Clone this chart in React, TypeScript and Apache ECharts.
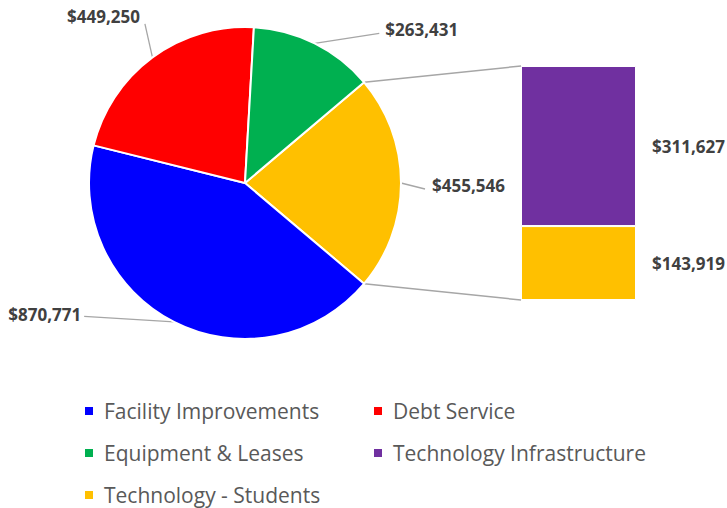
import React, { useEffect, useRef } from "react";
import * as echarts from "echarts";

// ---- data ----
const pieCategories = ["Facility Improvements", "Debt Service", "Equipment & Leases"];
const pieValues = [870771, 449250, 263431];
const otherName = "Technology";
const barCategories = ["Technology - Students", "Technology Infrastructure"];
const barValues = [143919, 311627];
const legendRows = [
  ["Facility Improvements", "Debt Service"],
  ["Equipment & Leases", "Technology Infrastructure"],
  ["Technology - Students"],
];

// ---- styles ----
const pieColors = ["#0000FF", "#FF0000", "#00B050"];
const otherColor = "#FFC000";
const barColors = ["#FFC000", "#7030A0"];
const labelColor = "#404040";
const lineColor = "#A6A6A6";
const FONT = "'Open Sans', 'Noto Sans', sans-serif";

// pie layout
const CX = 245;
const CY = 183;
const R = 156;
// legend layout
const legendLefts = [83, 372];
const legendTops = [400, 442, 484];
// per slice (order: other, facility, debt, equipment): labelLine length / length2, label nudge, line end nudge
const lineLen = [
  [12, 12],
  [4, 88],
  [38, 0],
  [8, 58],
];
const labelNudge = [
  [2, 2],
  [2, -11],
  [15, -10],
  [4, -7],
];
const lineEndNudge = [
  [0, 6],
  [0, -9],
  [15, -3],
  [3, -3],
];

const money = (v: number) => "$" + v.toLocaleString("en-US");

export default function App() {
  const ref = useRef<HTMLDivElement>(null);

  useEffect(() => {
    document.body.style.margin = "0";
    const chart = echarts.init(ref.current!, null, { renderer: "svg" });

    const otherValue = barValues.reduce((a, b) => a + b, 0);
    const total = pieValues.reduce((a, b) => a + b, 0) + otherValue;
    const startAngle = (otherValue / total) * 180;

    const pieData = [
      { name: otherName, value: otherValue, itemStyle: { color: otherColor } },
      ...pieCategories.map((n, i) => ({
        name: n,
        value: pieValues[i],
        itemStyle: { color: pieColors[i] },
      })),
    ].map((d, i) => ({
      ...d,
      labelLine: { length: lineLen[i][0], length2: lineLen[i][1] },
    }));

    const labelText = {
      fontFamily: FONT,
      fontWeight: "bold" as const,
      fontSize: 17,
      color: labelColor,
    };

    const legendText = {
      fontFamily: FONT,
      fontSize: 21,
      color: "#595959",
      padding: [0, 0, 0, 5],
      lineHeight: 22,
    };

    const legends: any[] = [];
    legendRows.forEach((row, ri) =>
      row.forEach((name, ci) =>
        legends.push({
          data: [name],
          left: legendLefts[ci],
          top: legendTops[ri],
          padding: 0,
          itemWidth: 10,
          itemHeight: 10,
          icon: "rect",
          textStyle: legendText,
          selectedMode: false,
        })
      )
    );

    const option: any = {
      animation: false,
      backgroundColor: "#FFFFFF",
      legend: legends,
      grid: { left: 521, top: 66, width: 115, height: 234, containLabel: false },
      xAxis: { type: "category", data: ["Other"], show: false },
      yAxis: {
        type: "value",
        min: 0,
        max: otherValue,
        show: false,
        splitLine: { show: false },
      },
      series: [
        {
          type: "pie",
          center: [CX, CY],
          radius: R,
          startAngle,
          clockwise: true,
          avoidLabelOverlap: false,
          data: pieData,
          itemStyle: { borderColor: "#FFFFFF", borderWidth: 2 },
          label: {
            show: true,
            position: "outside",
            formatter: (p: any) => money(p.value),
            ...labelText,
          },
          labelLine: { show: true, lineStyle: { color: lineColor, width: 1.3 } },
          labelLayout: (p: any) => {
            const i = p.dataIndex;
            const r = p.labelRect;
            const out: any = {
              x: r.x + labelNudge[i][0],
              y: r.y + labelNudge[i][1],
              align: "left",
              verticalAlign: "top",
            };
            const pts = p.labelLinePoints;
            if (pts && pts.length) {
              const e = pts[pts.length - 1];
              out.labelLinePoints = [
                pts[0],
                [e[0] + lineEndNudge[i][0], e[1] + lineEndNudge[i][1]],
              ];
            }
            return out;
          },
          emphasis: { disabled: true },
        },
        ...barCategories.map((n, i) => ({
          type: "bar",
          name: n,
          stack: "other",
          barWidth: "100%",
          data: [barValues[i]],
          itemStyle: { color: barColors[i], borderColor: "#FFFFFF", borderWidth: 1 },
          label: {
            show: true,
            position: "right",
            distance: 16,
            formatter: (p: any) => money(p.value),
            ...labelText,
          },
          emphasis: { disabled: true },
        })),
      ],
    };

    chart.setOption(option);

    // connector lines from the "other" slice edges to the stacked bar corners
    const a = (startAngle * Math.PI) / 180;
    const px = CX + R * Math.cos(a);
    const pyTop = CY - R * Math.sin(a);
    const pyBot = CY + R * Math.sin(a);
    const barTop = chart.convertToPixel({ yAxisIndex: 0 }, otherValue) as number;
    const barBot = chart.convertToPixel({ yAxisIndex: 0 }, 0) as number;
    const xCenter = chart.convertToPixel({ xAxisIndex: 0 }, 0) as number;
    const barLeft = xCenter - 115 / 2;
    chart.setOption({
      graphic: [
        {
          type: "line",
          shape: { x1: px, y1: pyTop, x2: barLeft, y2: barTop },
          style: { stroke: lineColor, lineWidth: 1.5 },
          silent: true,
        },
        {
          type: "line",
          shape: { x1: px, y1: pyBot, x2: barLeft, y2: barBot },
          style: { stroke: lineColor, lineWidth: 1.5 },
          silent: true,
        },
      ],
    });

    return () => chart.dispose();
  }, []);

  return <div ref={ref} style={{ width: 727, height: 508 }} />;
}
